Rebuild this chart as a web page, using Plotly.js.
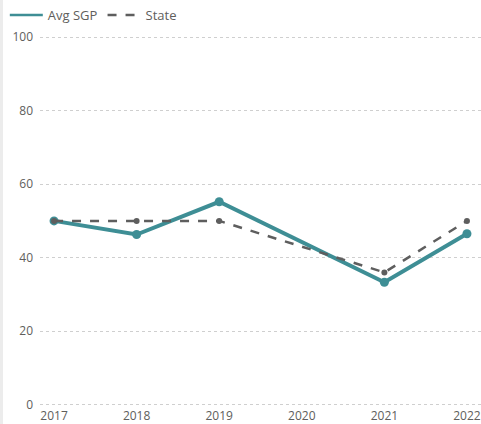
<!DOCTYPE html>
<html><head><meta charset="utf-8">
<script src="https://cdn.plot.ly/plotly-3.0.1.min.js"></script>
<style>
html,body{margin:0;padding:0;background:#fff;}
#wrap{position:absolute;left:0;top:0;width:481px;height:424px;overflow:hidden;}
#edge{position:absolute;left:0;top:0;width:3px;height:424px;background:#ececec;z-index:5;}
#chart{position:absolute;left:0;top:0;width:481px;height:424px;}
</style></head>
<body><div id="wrap"><div id="edge"></div><div id="chart"></div></div>
<script>
const years = [2017, 2018, 2019, 2020, 2021, 2022];
const avgSGP = [50, 46.3, 55.2, null, 33.3, 46.5];
const state = [50, 50, 50, null, 36, 50];
const yTicks = [0, 20, 40, 60, 80, 100];

const traces = [
  {x: years, y: avgSGP, name: 'Avg SGP', type: 'scatter', mode: 'lines+markers', connectgaps: true, showlegend: false,
   line: {color: '#3E8E95', width: 4}, marker: {color: '#3E8E95', size: 9}},
  {x: years, y: state, name: 'State', type: 'scatter', mode: 'lines+markers', connectgaps: true, showlegend: false,
   line: {color: '#5E5E5E', width: 2.5, dash: 'dash'}, marker: {color: '#5E5E5E', size: 6}},
  {x: [null], y: [null], name: 'Avg SGP', type: 'scatter', mode: 'lines', line: {color: '#3E8E95', width: 2.5}},
  {x: [null], y: [null], name: 'State', type: 'scatter', mode: 'lines', line: {color: '#5E5E5E', width: 2.5, dash: 'dash'}}
];

const layout = {
  width: 481, height: 424,
  margin: {l: 40, r: 0, t: 32, b: 17},
  paper_bgcolor: '#fff', plot_bgcolor: '#fff',
  font: {family: 'Open Sans, Noto Sans, sans-serif', size: 12, color: '#605E5C'},
  showlegend: true,
  legend: {orientation: 'h', xref: 'container', yref: 'container', x: 0.01, y: 1, xanchor: 'left', yanchor: 'top',
           font: {size: 13, color: '#605E5C'}, itemwidth: 33, tracegroupgap: 0, traceorder: 'normal', bgcolor: 'rgba(0,0,0,0)'},
  xaxis: {range: [2016.83, 2022.17], tickvals: years, ticktext: years.map(String), showgrid: false, zeroline: false,
          showline: false, ticks: '', ticklabelstandoff: 0, tickfont: {size: 12, color: '#605E5C'}, fixedrange: true},
  yaxis: {range: [-0.6, 101.36], tickvals: yTicks, showgrid: true, gridcolor: '#cfcfcf', griddash: 'dot', gridwidth: 1,
          zeroline: false, showline: false, ticks: '', ticklabelstandoff: 6, tickfont: {size: 12, color: '#605E5C'}, fixedrange: true}
};

Plotly.newPlot('chart', traces, layout, {displayModeBar: false, staticPlot: true});
</script></body></html>
